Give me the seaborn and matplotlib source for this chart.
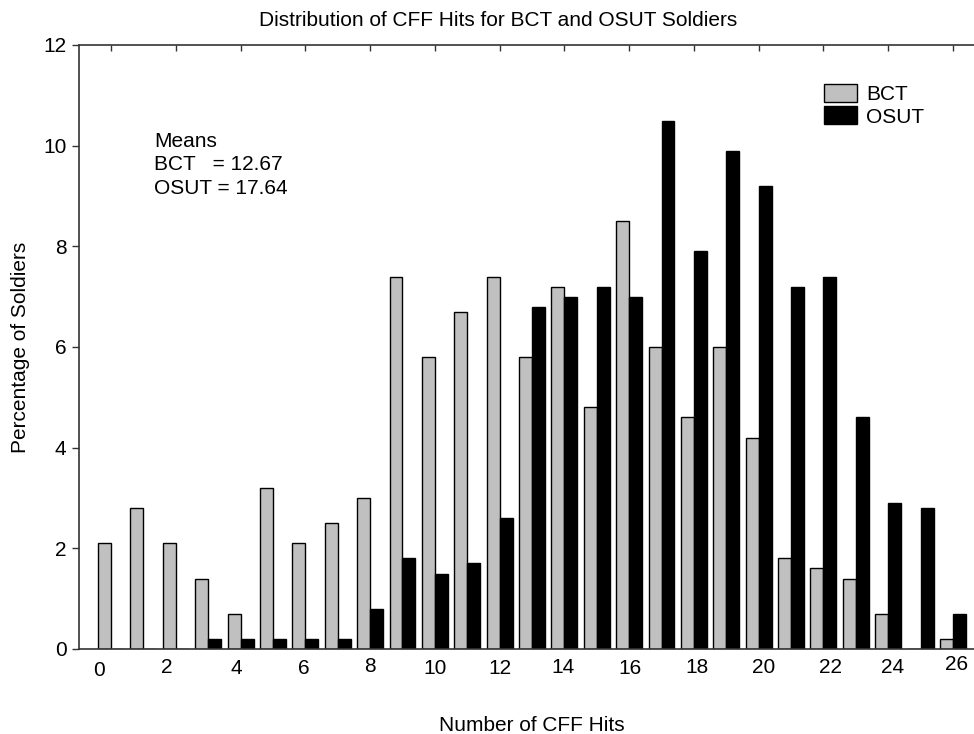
import matplotlib
matplotlib.use("Agg")
import matplotlib.pyplot as plt
import seaborn as sns
import pandas as pd
from matplotlib.patches import Patch

# Number of CFF hits (0-26) and percentage of soldiers per group
hits = list(range(27))
bct_pct = [2.1, 2.8, 2.1, 1.4, 0.7, 3.2, 2.1, 2.5, 3.0, 7.4, 5.8, 6.7, 7.4, 5.8,
           7.2, 4.8, 8.5, 6.0, 4.6, 6.0, 4.2, 1.8, 1.6, 1.4, 0.7, 0.0, 0.2]
osut_pct = [0.0, 0.0, 0.0, 0.2, 0.2, 0.2, 0.2, 0.2, 0.8, 1.8, 1.5, 1.7, 2.6, 6.8,
            7.0, 7.2, 7.0, 10.5, 7.9, 9.9, 9.2, 7.2, 7.4, 4.6, 2.9, 2.8, 0.7]
groups = ["BCT", "OSUT"]
group_colors = ["#c0c0c0", "#000000"]
tick_values = list(range(0, 27, 2))
y_ticks = [0, 2, 4, 6, 8, 10, 12]
means_text = "Means\nBCT   = 12.67\nOSUT = 17.64"

df = pd.DataFrame({
    "hits": hits * 2,
    "pct": bct_pct + osut_pct,
    "group": [groups[0]] * len(hits) + [groups[1]] * len(hits),
})

sns.set_style("white")
plt.rcParams["font.family"] = ["Liberation Sans", "DejaVu Sans"]
plt.rcParams.update({"text.color": "black", "axes.labelcolor": "black",
                     "xtick.color": "black", "ytick.color": "black"})
FS = 15

fig = plt.figure(figsize=(9.74, 7.34), dpi=100)
ax = fig.add_axes([79 / 974, 1 - 649 / 734, 1 - 79 / 974, (649 - 45) / 734])

sns.barplot(data=df, x="hits", y="pct", hue="group", order=hits,
            hue_order=groups, palette=group_colors, width=0.8,
            edgecolor="black", linewidth=1.0, saturation=1, ax=ax,
            legend=False)

ax.set_xlim(-0.99, 26.65)
ax.set_ylim(0, 12)
ax.set_yticks(y_ticks)
ax.set_yticklabels([str(v) for v in y_ticks], fontsize=FS)

# tick marks along the top at every second category
ax.set_xticks(tick_values)
ax.set_xticklabels([])
# hand-placed, slightly staggered number labels along the bottom
label_shift = [-0.37, -0.28, -0.12, -0.06, 0.01, 0.01, 0.01, -0.03, 0.03, 0.09,
               0.15, 0.22, 0.15, 0.12]
ax.set_xticks([v + s for v, s in zip(tick_values, label_shift)],
              [str(v) for v in tick_values], minor=True, fontsize=FS)
pads = [8.5, 6.5, 7, 7, 5.5, 7, 7, 6.5, 7, 6.5, 6.5, 6.5, 6.5, 4.5]
for tk, p in zip(ax.xaxis.get_minor_ticks(), pads):
    tk.set_pad(p)

ax.tick_params(axis="x", which="major", bottom=False, top=True, direction="in",
               length=4, width=1, color="#333333", labelbottom=False)
ax.tick_params(axis="x", which="minor", bottom=False, top=False,
               labelbottom=True, length=0, labelcolor="black")
ax.tick_params(axis="y", which="both", left=True, direction="out", length=5,
               width=1, color="#333333", pad=4, labelcolor="black")

for side in ["left", "top", "bottom"]:
    ax.spines[side].set_visible(True)
    ax.spines[side].set_color("#333333")
    ax.spines[side].set_linewidth(1.2)
ax.spines["right"].set_visible(False)

ax.set_xlabel("Number of CFF Hits", fontsize=FS)
ax.xaxis.label.set_va("baseline")
ax.xaxis.set_label_coords(0.506, -0.1358)
ax.set_ylabel("Percentage of Soldiers", fontsize=FS)
ax.yaxis.set_label_coords(-0.055, 0.5)

fig.text(498 / 974, 1 - 25.7 / 734,
         "Distribution of CFF Hits for BCT and OSUT Soldiers",
         fontsize=FS, ha="center", va="baseline")

ax.text(1.33, 10.28, means_text, fontsize=FS, va="top", ha="left",
        linespacing=1.3)

handles = [Patch(facecolor=c, edgecolor="black", linewidth=1.0) for c in group_colors]
ax.legend(handles, groups, loc="upper left", bbox_to_anchor=(0.832, 0.935),
          frameon=False, fontsize=FS, handlelength=1.6, handleheight=0.94,
          handletextpad=0.43, labelspacing=0.1, borderpad=0, borderaxespad=0)

fig.savefig("out.png", dpi=100)
